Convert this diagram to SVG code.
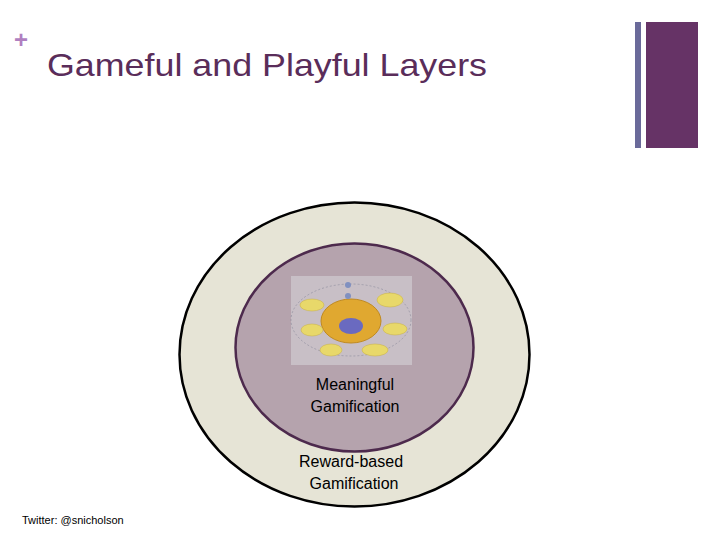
<svg xmlns="http://www.w3.org/2000/svg" width="720" height="540" viewBox="0 0 720 540">
<style>
.t{font-family:"Liberation Sans",Arial,sans-serif;fill:#000}
.y{fill:#e8d86a;stroke:#c9b040;stroke-width:0.5}
</style>
<rect width="720" height="540" fill="#fff"/>
<g id="header">
<text x="14" y="48" font-family="Liberation Sans,Arial,sans-serif" font-size="24" font-weight="bold" fill="#b07fc0">+</text>
<text x="47" y="76" font-family="Liberation Sans,Arial,sans-serif" font-size="32" fill="#5a2d5a" textLength="440" lengthAdjust="spacingAndGlyphs">Gameful and Playful Layers</text>
<rect x="635" y="22" width="6" height="126" fill="#6a6a9a"/>
<rect x="646" y="22" width="52" height="126" fill="#663366"/>
</g>
<g id="outer">
<ellipse cx="354.5" cy="354.5" rx="175" ry="152" fill="#e6e4d6" stroke="#000" stroke-width="2.5"/>
<text class="t" x="351" y="467" font-size="16" text-anchor="middle">Reward-based</text>
<text class="t" x="354" y="489" font-size="16" text-anchor="middle">Gamification</text>
</g>
<g id="inner">
<ellipse cx="354.5" cy="347.5" rx="119" ry="104" fill="#b5a3ad" stroke="#4d2a4d" stroke-width="2.5"/>
<text class="t" x="355" y="390" font-size="16" text-anchor="middle">Meaningful</text>
<text class="t" x="355" y="412" font-size="16" text-anchor="middle">Gamification</text>
</g>
<g id="picture">
<rect x="291" y="276" width="121" height="89" fill="#c8bfc6"/>
<ellipse cx="351" cy="320" rx="60" ry="36" fill="none" stroke="#8a8a9a" stroke-width="0.6" stroke-dasharray="2 2"/>
<ellipse cx="351" cy="321" rx="30" ry="22" fill="#e0a830" stroke="#c08a20"/>
<ellipse cx="351" cy="326" rx="12" ry="8" fill="#6a6ac0"/>
<ellipse class="y" cx="312" cy="305" rx="12" ry="6"/>
<ellipse class="y" cx="312" cy="330" rx="11" ry="6"/>
<ellipse class="y" cx="331" cy="350" rx="11" ry="6"/>
<ellipse class="y" cx="375" cy="350" rx="13" ry="6"/>
<ellipse class="y" cx="395" cy="329" rx="12" ry="6"/>
<ellipse class="y" cx="390" cy="300" rx="13" ry="7"/>
<circle cx="348" cy="285" r="3" fill="#8090c0"/>
<circle cx="348" cy="296" r="3" fill="#8090c0"/>
</g>
<text class="t" x="22" y="524" font-size="11">Twitter: @snicholson</text>
</svg>
